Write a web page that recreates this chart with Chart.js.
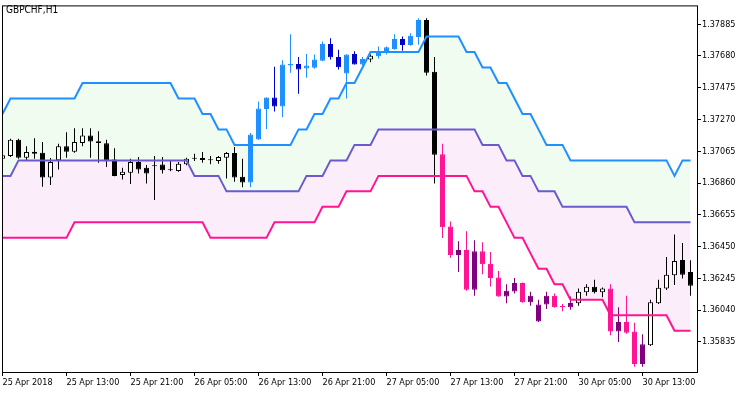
<!DOCTYPE html>
<html>
<head>
<meta charset="utf-8">
<script src="https://cdn.jsdelivr.net/npm/chart.js@4.4.1/dist/chart.umd.min.js"></script>
<style>
  html, body { margin: 0; padding: 0; background: #fff; }
  #wrap { width: 750px; height: 394px; }
</style>
</head>
<body>
<div id="wrap"><canvas id="chart" width="750" height="394"></canvas></div>
<script>
// GBPCHF H1 candles with a three line channel (upper / middle / lower)
const symbol = 'GBPCHF,H1'

const timeLabels = ['25 Apr 2018', '25 Apr 13:00', '25 Apr 21:00', '26 Apr 05:00', '26 Apr 13:00', '26 Apr 21:00',
  '27 Apr 05:00', '27 Apr 13:00', '27 Apr 21:00', '30 Apr 05:00', '30 Apr 13:00']
const timeLabelBars = [0, 8, 16, 24, 32, 40, 48, 56, 64, 72, 80]

const priceTicks = [1.35835, 1.36040, 1.36245, 1.36450, 1.36655, 1.36860, 1.37065, 1.37270, 1.37475, 1.37680, 1.37885]
const priceLabels = ['1.35835', '1.36040', '1.36245', '1.36450', '1.36655', '1.36860', '1.37065', '1.37270', '1.37475', '1.37680', '1.37885']

const opens = [
  1.37017, 1.37034, 1.37139, 1.37023, 1.37062, 1.37055, 1.36896, 1.37007, 1.37098, 1.37062,
  1.37119, 1.37167, 1.37130, 1.37117, 1.37011, 1.36911, 1.36927, 1.36996, 1.36958, 1.36975,
  1.36979, 1.36947, 1.36938, 1.36981, 1.37021, 1.37021, 1.37013, 1.37002, 1.37023, 1.37053,
  1.36900, 1.36864, 1.37141, 1.37337, 1.37412, 1.37354, 1.37618, 1.37629, 1.37599, 1.37604,
  1.37650, 1.37757, 1.37674, 1.37567, 1.37693, 1.37625, 1.37657, 1.37678, 1.37700, 1.37725,
  1.37789, 1.37751, 1.37802, 1.37912, 1.37578, 1.37045, 1.36580, 1.36395, 1.36427, 1.36171,
  1.36420, 1.36339, 1.36250, 1.36128, 1.36160, 1.36214, 1.36090, 1.35966, 1.36075, 1.36132,
  1.36064, 1.36058, 1.36083, 1.36154, 1.36190, 1.36154, 1.36179, 1.35902, 1.35962, 1.35902,
  1.35691, 1.35813, 1.36083, 1.36179, 1.36265, 1.36363, 1.36286
]
const highs = [
  1.37047, 1.37145, 1.37145, 1.37098, 1.37149, 1.37124, 1.37021, 1.37113, 1.37188, 1.37213,
  1.37213, 1.37213, 1.37194, 1.37139, 1.37085, 1.36959, 1.37017, 1.37028, 1.36977, 1.37034,
  1.37028, 1.37002, 1.36996, 1.37023, 1.37049, 1.37060, 1.37034, 1.37034, 1.37060, 1.37092,
  1.37017, 1.37183, 1.37386, 1.37414, 1.37610, 1.37653, 1.37821, 1.37674, 1.37693, 1.37689,
  1.37774, 1.37795, 1.37721, 1.37691, 1.37710, 1.37674, 1.37689, 1.37742, 1.37742, 1.37821,
  1.37806, 1.37827, 1.37923, 1.37923, 1.37674, 1.37113, 1.36612, 1.36484, 1.36548, 1.36491,
  1.36478, 1.36414, 1.36292, 1.36207, 1.36246, 1.36217, 1.36158, 1.36107, 1.36158, 1.36147,
  1.36079, 1.36128, 1.36179, 1.36207, 1.36235, 1.36186, 1.36207, 1.36058, 1.36132, 1.35958,
  1.35883, 1.36107, 1.36235, 1.36382, 1.36527, 1.36473, 1.36361
]
const lows = [
  1.37009, 1.37028, 1.37017, 1.37007, 1.37017, 1.36836, 1.36847, 1.36947, 1.37023, 1.37055,
  1.37098, 1.37023, 1.36991, 1.36964, 1.36903, 1.36883, 1.36853, 1.36921, 1.36857, 1.36751,
  1.36921, 1.36936, 1.36932, 1.36975, 1.37002, 1.36991, 1.36981, 1.36985, 1.36889, 1.36868,
  1.36832, 1.36832, 1.37139, 1.37209, 1.37322, 1.37284, 1.37572, 1.37437, 1.37540, 1.37597,
  1.37646, 1.37657, 1.37593, 1.37405, 1.37625, 1.37618, 1.37640, 1.37663, 1.37689, 1.37721,
  1.37714, 1.37746, 1.37753, 1.37554, 1.36857, 1.36505, 1.36377, 1.36286, 1.36164, 1.36132,
  1.36271, 1.36192, 1.36125, 1.36083, 1.36147, 1.36087, 1.36068, 1.35962, 1.36047, 1.36055,
  1.36032, 1.36041, 1.36068, 1.36132, 1.36147, 1.36122, 1.35877, 1.35834, 1.35887, 1.35674,
  1.35674, 1.35808, 1.36079, 1.36169, 1.36201, 1.36243, 1.36132
]
const closes = [
  1.37039, 1.37139, 1.37023, 1.37060, 1.37049, 1.36896, 1.36996, 1.37098, 1.37062, 1.37124,
  1.37167, 1.37128, 1.37119, 1.37007, 1.36906, 1.36932, 1.36996, 1.36947, 1.36921, 1.36968,
  1.36943, 1.36943, 1.36985, 1.37017, 1.37017, 1.37009, 1.37007, 1.37028, 1.37053, 1.36896,
  1.36864, 1.37173, 1.37341, 1.37412, 1.37354, 1.37625, 1.37629, 1.37593, 1.37618, 1.37657,
  1.37757, 1.37672, 1.37608, 1.37689, 1.37625, 1.37661, 1.37682, 1.37710, 1.37736, 1.37789,
  1.37751, 1.37810, 1.37912, 1.37572, 1.37043, 1.36574, 1.36395, 1.36427, 1.36171, 1.36420,
  1.36335, 1.36246, 1.36128, 1.36164, 1.36214, 1.36090, 1.36132, 1.36075, 1.36132, 1.36058,
  1.36060, 1.36086, 1.36158, 1.36190, 1.36154, 1.36179, 1.35902, 1.35962, 1.35894, 1.35691,
  1.35819, 1.36090, 1.36184, 1.36267, 1.36356, 1.36267, 1.36196
]
// 1 = above channel, -1 = below channel, 0 = inside
const trend = [
  0, 0, 0, 0, 0, 0, 0, 0, 0, 0, 0, 0, 0, 0, 0, 0, 0, 0, 0, 0,
  0, 0, 0, 0, 0, 0, 0, 0, 0, 0, 0, 1, 1, 1, 1, 1, 1, 1, 1, 1,
  1, 1, 1, 1, 1, 1, 0, 1, 1, 1, 1, 1, 1, 0, 0, -1, -1, -1, -1, -1,
  -1, -1, -1, -1, -1, -1, -1, -1, -1, -1, -1, -1, 0, 0, 0, 0, -1, -1, -1, -1,
  -1, 0, 0, 0, 0, 0, 0
]

const upperBand = [
  1.37306, 1.37406, 1.37406, 1.37406, 1.37406, 1.37406, 1.37406, 1.37406, 1.37406, 1.37406,
  1.37506, 1.37506, 1.37506, 1.37506, 1.37506, 1.37506, 1.37506, 1.37506, 1.37506, 1.37506,
  1.37506, 1.37506, 1.37406, 1.37406, 1.37406, 1.37306, 1.37306, 1.37206, 1.37206, 1.37106,
  1.37106, 1.37106, 1.37106, 1.37106, 1.37106, 1.37106, 1.37106, 1.37206, 1.37206, 1.37306,
  1.37306, 1.37406, 1.37406, 1.37506, 1.37506, 1.37606, 1.37706, 1.37706, 1.37706, 1.37706,
  1.37706, 1.37706, 1.37706, 1.37806, 1.37806, 1.37806, 1.37806, 1.37806, 1.37706, 1.37706,
  1.37606, 1.37606, 1.37506, 1.37506, 1.37406, 1.37306, 1.37306, 1.37206, 1.37106, 1.37106,
  1.37106, 1.37006, 1.37006, 1.37006, 1.37006, 1.37006, 1.37006, 1.37006, 1.37006, 1.37006,
  1.37006, 1.37006, 1.37006, 1.37006, 1.36906, 1.37006, 1.37006
]
const middleBand = [
  1.36906, 1.36906, 1.37006, 1.37006, 1.37006, 1.37006, 1.37006, 1.37006, 1.37006, 1.37006,
  1.37006, 1.37006, 1.37006, 1.37006, 1.37006, 1.37006, 1.37006, 1.37006, 1.37006, 1.37006,
  1.37006, 1.37006, 1.37006, 1.37006, 1.36906, 1.36906, 1.36906, 1.36906, 1.36806, 1.36806,
  1.36806, 1.36806, 1.36806, 1.36806, 1.36806, 1.36806, 1.36806, 1.36806, 1.36906, 1.36906,
  1.36906, 1.37006, 1.37006, 1.37006, 1.37106, 1.37106, 1.37106, 1.37206, 1.37206, 1.37206,
  1.37206, 1.37206, 1.37206, 1.37206, 1.37206, 1.37206, 1.37206, 1.37206, 1.37206, 1.37206,
  1.37106, 1.37106, 1.37106, 1.37006, 1.37006, 1.36906, 1.36906, 1.36806, 1.36806, 1.36806,
  1.36706, 1.36706, 1.36706, 1.36706, 1.36706, 1.36706, 1.36706, 1.36706, 1.36706, 1.36606,
  1.36606, 1.36606, 1.36606, 1.36606, 1.36606, 1.36606, 1.36606
]
const lowerBand = [
  1.36506, 1.36506, 1.36506, 1.36506, 1.36506, 1.36506, 1.36506, 1.36506, 1.36506, 1.36606,
  1.36606, 1.36606, 1.36606, 1.36606, 1.36606, 1.36606, 1.36606, 1.36606, 1.36606, 1.36606,
  1.36606, 1.36606, 1.36606, 1.36606, 1.36606, 1.36606, 1.36506, 1.36506, 1.36506, 1.36506,
  1.36506, 1.36506, 1.36506, 1.36506, 1.36606, 1.36606, 1.36606, 1.36606, 1.36606, 1.36606,
  1.36706, 1.36706, 1.36706, 1.36806, 1.36806, 1.36806, 1.36806, 1.36906, 1.36906, 1.36906,
  1.36906, 1.36906, 1.36906, 1.36906, 1.36906, 1.36906, 1.36906, 1.36906, 1.36906, 1.36806,
  1.36806, 1.36706, 1.36706, 1.36606, 1.36506, 1.36506, 1.36406, 1.36306, 1.36306, 1.36206,
  1.36206, 1.36106, 1.36106, 1.36106, 1.36106, 1.36106, 1.36006, 1.36006, 1.36006, 1.36006,
  1.36006, 1.36006, 1.36006, 1.36006, 1.35906, 1.35906, 1.35906
]

const palette = {
  upBull: '#1e90ff',
  upBear: '#0000cd',
  downBull: '#800080',
  downBear: '#ff1493',
  neutral: '#000000',
  hollow: '#ffffff'
}
const fontFamily = '"DejaVu Sans Condensed", "DejaVu Sans", sans-serif'

function candleColor(i) {
  const bull = closes[i] >= opens[i]
  if (trend[i] > 0) return bull ? palette.upBull : palette.upBear
  if (trend[i] < 0) return bull ? palette.downBull : palette.downBear
  return palette.neutral
}

function bodyFill(i) {
  if (trend[i] === 0 && closes[i] >= opens[i]) return palette.hollow
  return candleColor(i)
}

const bars = opens.map((_, i) => i)
const bodies = bars.map(i => ({ x: i, y: [opens[i], closes[i]] }))
const wicks = bars.map(i => ({ x: i, y: [lows[i], highs[i]] }))
const toLine = arr => arr.map((v, i) => ({ x: i, y: v }))

const lineStyle = { type: 'line', borderWidth: 2, pointRadius: 0, tension: 0, order: 0, clip: 0 }

// frame round the plot + symbol caption
const framePlugin = {
  id: 'frame',
  afterDraw(chart) {
    const { ctx, chartArea: a } = chart
    ctx.save()
    ctx.strokeStyle = '#000'
    ctx.lineWidth = 1
    ctx.strokeRect(a.left - 0.5, a.top - 0.5, a.right - a.left + 1, a.bottom - a.top + 1)
    ctx.font = '10px ' + fontFamily
    ctx.fillStyle = '#000'
    ctx.textBaseline = 'alphabetic'
    ctx.fillText(symbol, 6, 13)
    ctx.restore()
  }
}

new Chart(document.getElementById('chart'), {
  type: 'bar',
  data: {
    datasets: [
      { ...lineStyle, label: 'Upper', data: toLine(upperBand), borderColor: '#1e90ff', backgroundColor: '#f0fcf0', fill: '+1' },
      { ...lineStyle, label: 'Middle', data: toLine(middleBand), borderColor: '#6a5acd', backgroundColor: '#fcedfb', fill: '+1' },
      { ...lineStyle, label: 'Lower', data: toLine(lowerBand), borderColor: '#ff1493', fill: false },
      {
        label: 'Body',
        data: bodies,
        backgroundColor: bars.map(bodyFill),
        borderColor: bars.map(candleColor),
        borderWidth: 1,
        borderSkipped: false,
        barThickness: 5,
        minBarLength: 1,
        grouped: false,
        inflateAmount: 0,
        order: 1,
        clip: 0
      },
      {
        label: 'Wick',
        data: wicks,
        backgroundColor: bars.map(candleColor),
        borderWidth: 0,
        barThickness: 1,
        grouped: false,
        inflateAmount: 0,
        order: 2,
        clip: 0
      }
    ]
  },
  options: {
    responsive: false,
    animation: false,
    events: [],
    layout: { padding: { left: 3, top: 3, right: 0, bottom: 0 } },
    plugins: {
      legend: { display: false },
      tooltip: { enabled: false },
      filler: { drawTime: 'beforeDatasetsDraw' }
    },
    scales: {
      x: {
        type: 'linear',
        min: 0.0625,
        max: 86.8125,
        offset: false,
        bounds: 'data',
        afterBuildTicks: s => { s.ticks = timeLabelBars.map(v => ({ value: v })) },
        afterFit: s => { s.height = 22 },
        grid: { drawOnChartArea: false, drawTicks: true, tickLength: 4, color: '#000', offset: false },
        border: { display: false },
        ticks: {
          autoSkip: false,
          maxRotation: 0,
          minRotation: 0,
          align: 'start',
          padding: 1,
          color: '#000',
          font: { family: fontFamily, size: 9 },
          callback: (v, i) => timeLabels[i]
        }
      },
      y: {
        type: 'linear',
        position: 'right',
        min: 1.3563993,
        max: 1.3800013,
        bounds: 'data',
        afterBuildTicks: s => { s.ticks = priceTicks.map(v => ({ value: v })) },
        afterFit: s => { s.width = 53 },
        grid: { drawOnChartArea: false, drawTicks: true, tickLength: 4, color: '#000' },
        border: { display: false },
        ticks: {
          padding: 1,
          color: '#000',
          font: { family: fontFamily, size: 9 },
          callback: (v, i) => priceLabels[i]
        }
      }
    }
  },
  plugins: [framePlugin]
})
</script>
</body>
</html>
